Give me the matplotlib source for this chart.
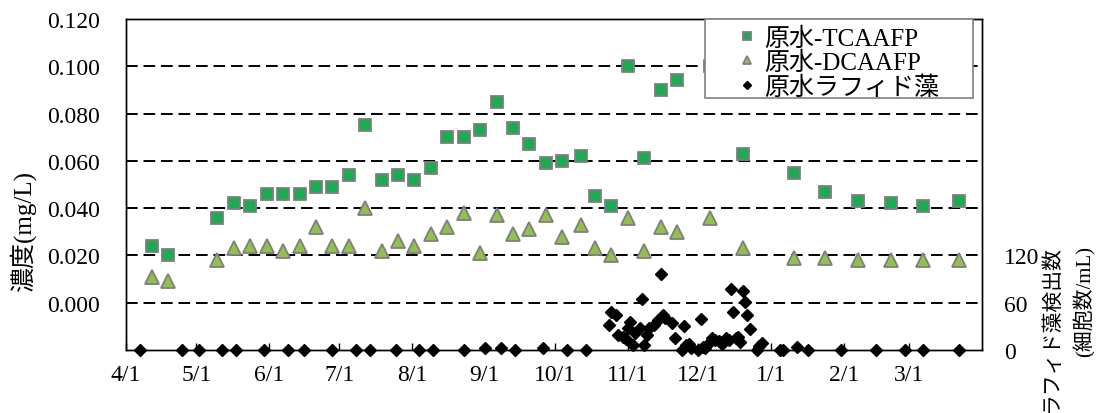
import numpy as np
import matplotlib
matplotlib.use('Agg')
import matplotlib.pyplot as plt
from matplotlib.patches import Rectangle

plt.rcParams['font.family'] = ['Liberation Serif', 'Noto Sans CJK JP']

# weekly raw water sampling (FY2010)
sample_dates = np.array([
    '2010-04-12', '2010-04-19', '2010-05-10', '2010-05-17', '2010-05-24',
    '2010-05-31', '2010-06-07', '2010-06-14', '2010-06-21', '2010-06-28',
    '2010-07-05', '2010-07-12', '2010-07-19', '2010-07-26', '2010-08-02',
    '2010-08-09', '2010-08-16', '2010-08-23', '2010-08-30', '2010-09-06',
    '2010-09-13', '2010-09-20', '2010-09-27', '2010-10-04', '2010-10-12',
    '2010-10-18', '2010-10-25', '2010-11-01', '2010-11-08', '2010-11-15',
    '2010-11-22', '2010-12-06', '2010-12-20', '2011-01-11', '2011-01-24',
    '2011-02-07', '2011-02-21', '2011-03-07', '2011-03-22'], dtype='datetime64[D]')

tcaafp = [0.024, 0.020, 0.036, 0.042, 0.041, 0.046, 0.046, 0.046, 0.049, 0.049,
          0.054, 0.075, 0.052, 0.054, 0.052, 0.057, 0.070, 0.070, 0.073, 0.085,
          0.074, 0.067, 0.059, 0.060, 0.062, 0.045, 0.041, 0.100, 0.061, 0.090,
          0.094, 0.100, 0.063, 0.055, 0.047, 0.043, 0.042, 0.041, 0.043]

dcaafp = [0.011, 0.009, 0.018, 0.023, 0.024, 0.024, 0.022, 0.024, 0.032, 0.024,
          0.024, 0.040, 0.022, 0.026, 0.024, 0.029, 0.032, 0.038, 0.021, 0.037,
          0.029, 0.031, 0.037, 0.028, 0.033, 0.023, 0.020, 0.036, 0.022, 0.032,
          0.030, 0.036, 0.023, 0.019, 0.019, 0.018, 0.018, 0.018, 0.018]

# raphidophyte counts (cells/mL)
algae_dates = np.array([
    '2010-04-07', '2010-04-25', '2010-05-02', '2010-05-12', '2010-05-18',
    '2010-05-30', '2010-06-09', '2010-06-16', '2010-06-28', '2010-07-08',
    '2010-07-14', '2010-07-25', '2010-08-04', '2010-08-10', '2010-08-23',
    '2010-09-01', '2010-09-08', '2010-09-14', '2010-09-26', '2010-10-06',
    '2010-10-14', '2010-10-24', '2010-10-25', '2010-10-27', '2010-10-28',
    '2010-10-30', '2010-10-31', '2010-11-01', '2010-11-02', '2010-11-03',
    '2010-11-04', '2010-11-06', '2010-11-07', '2010-11-08', '2010-11-09',
    '2010-11-10', '2010-11-12', '2010-11-14', '2010-11-15', '2010-11-16',
    '2010-11-17', '2010-11-20', '2010-11-21', '2010-11-24', '2010-11-25',
    '2010-11-26', '2010-11-27', '2010-11-28', '2010-12-01', '2010-12-02',
    '2010-12-03', '2010-12-04', '2010-12-05', '2010-12-07', '2010-12-08',
    '2010-12-10', '2010-12-11', '2010-12-13', '2010-12-14', '2010-12-15',
    '2010-12-16', '2010-12-17', '2010-12-18', '2010-12-19', '2010-12-20',
    '2010-12-21', '2010-12-22', '2010-12-23', '2010-12-26', '2010-12-27',
    '2010-12-28', '2011-01-05', '2011-01-06', '2011-01-12', '2011-01-17',
    '2011-01-31', '2011-02-15', '2011-02-27', '2011-03-07', '2011-03-22'],
    dtype='datetime64[D]')

algae_counts = [0, 0, 0, 0, 0, 0, 0, 0, 0, 0,
                0, 0, 0, 0, 0, 2, 3, 0, 3, 0,
                0, 32, 48, 45, 19, 17, 14, 28, 36, 6,
                21, 28, 65, 6, 19, 28, 32, 38, 96, 45,
                40, 34, 15, 0, 30, 6, 8, 2, 0, 39,
                4, 2, 8, 15, 13, 11, 8, 15, 13, 77,
                48, 15, 17, 10, 75, 61, 45, 26, 0, 5,
                9, 0, 0, 4, 0, 0, 0, 0, 0, 0]

month_labels = ['4/1', '5/1', '6/1', '7/1', '8/1', '9/1',
                '10/1', '11/1', '12/1', '1/1', '2/1', '3/1']
conc_ticks = [0.000, 0.020, 0.040, 0.060, 0.080, 0.100, 0.120]
count_ticks = [0, 60, 120]

fig = plt.figure(figsize=(11.03, 4.14), dpi=100)
ax = fig.add_axes([0.1142, 0.1522, 0.7761, 0.7995])
ax2 = ax.twinx()

# concentrations on the left axis
h1, = ax.plot(sample_dates, tcaafp, ls='none', marker='s', ms=8.5,
              mfc='#1DAA52', mec='#7F7F7F', mew=1.3, label='原水-TCAAFP', zorder=3)
h2, = ax.plot(sample_dates, dcaafp, ls='none', marker='^', ms=9.5,
              mfc='#92C050', mec='#7F7F7F', mew=1.3, label='原水-DCAAFP', zorder=3)

# cell counts on the right axis
h3, = ax2.plot(algae_dates, algae_counts, ls='none', marker='D', ms=6.2,
               color='black', label='原水ラフィド藻', clip_on=False, zorder=3)

ax.set_xlim(np.datetime64('2010-04-01'), np.datetime64('2011-04-01'))
month_starts = np.arange('2010-04', '2011-04', dtype='datetime64[M]').astype('datetime64[D]')
ax.set_xticks(month_starts)
ax.set_xticklabels(month_labels)
ax.tick_params(axis='x', direction='in', length=5, width=1, pad=10, labelsize=17)

ax.set_ylim(-0.02, 0.12)
ax.set_yticks(conc_ticks)
ax.set_yticklabels(['%.3f' % v for v in conc_ticks])
ax.tick_params(axis='y', length=0, pad=19, labelsize=17)
ax.set_axisbelow(True)
ax.grid(axis='y', color='black', lw=1.4, linestyle=(0, (6, 3)))
ax.set_ylabel('濃度(mg/L)', fontsize=18)
ax.yaxis.set_label_coords(-0.105, 0.36)

ax2.set_ylim(0, 420)
ax2.set_yticks(count_ticks)
ax2.tick_params(axis='y', length=0, pad=16, labelsize=17)

for a in (ax, ax2):
    for s in a.spines.values():
        s.set_linewidth(1.0)
        s.set_color('black')

fig.text(0.969, 1 - 246 / 414, 'ラフィド藻検出数\n(細胞数/mL)', rotation=90,
         ha='center', va='top', multialignment='right', fontsize=15, linespacing=1.7)

# legend box
ax2.add_patch(Rectangle((0.676, 0.761), 0.3135, 0.239, transform=ax2.transAxes,
                        facecolor='white', edgecolor='#808080', lw=1.2,
                        zorder=4, clip_on=False))
ax2.legend([h1, h2, h3], [h1.get_label(), h2.get_label(), h3.get_label()],
           loc='center', bbox_to_anchor=(0.832, 0.868), frameon=False, fontsize=18,
           handlelength=0.8, handletextpad=0.3, labelspacing=0.05,
           markerscale=0.65, borderpad=0)

fig.savefig('out.png', dpi=100)
